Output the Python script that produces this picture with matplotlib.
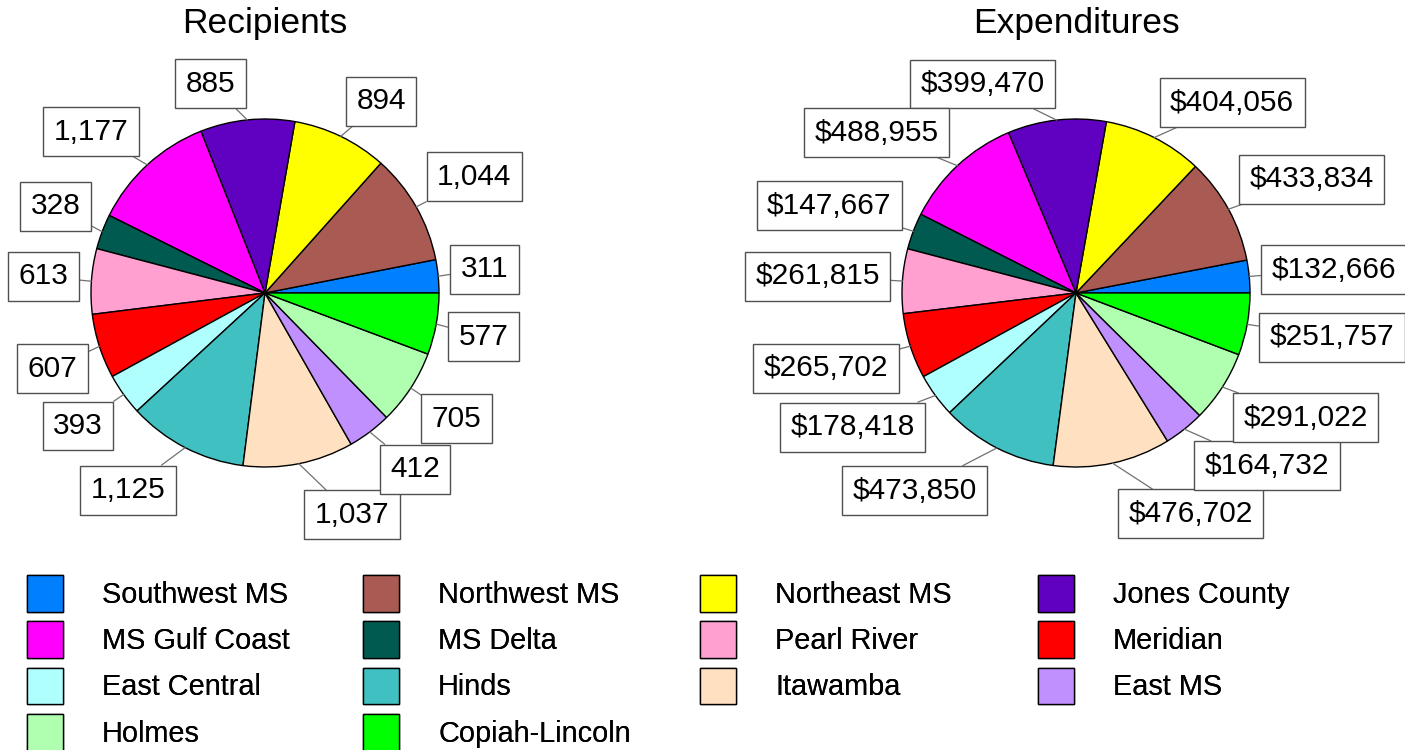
import numpy as np
import matplotlib.pyplot as plt

plt.rcParams['font.family'] = ['Liberation Sans', 'DejaVu Sans']

colleges = ['Southwest MS', 'Northwest MS', 'Northeast MS', 'Jones County',
            'MS Gulf Coast', 'MS Delta', 'Pearl River', 'Meridian',
            'East Central', 'Hinds', 'Itawamba', 'East MS', 'Holmes',
            'Copiah-Lincoln']
recipients = [311, 1044, 894, 885, 1177, 328, 613, 607, 393, 1125, 1037, 412, 705, 577]
expenditures = [132666, 433834, 404056, 399470, 488955, 147667, 261815, 265702,
                178418, 473850, 476702, 164732, 291022, 251757]
colors = ['#0080ff', '#a95a52', '#ffff00', '#6000c0', '#ff00ff', '#005a50',
          '#ffa0d0', '#ff0000', '#b0ffff', '#40c0c0', '#ffe0c0', '#c090ff',
          '#b0ffb0', '#00ff00']

W, H = 1405, 750
R = 174.0  # pie radius in pixels
LABEL_FS = 21.5
fig = plt.figure(figsize=(W / 100, H / 100), dpi=100)


def pie_panel(cx, cy, values, fmt, title):
    hw, hh = 260, 255
    ax = fig.add_axes([(cx - hw) / W, 1 - (cy + hh) / H, 2 * hw / W, 2 * hh / H])
    wedges, _ = ax.pie(values, colors=colors, startangle=0, radius=1,
                       wedgeprops=dict(edgecolor='black', linewidth=1))
    ax.set_aspect('auto')
    ax.set_xlim(-hw / R, hw / R)
    ax.set_ylim(-hh / R, hh / R)
    ax.axis('off')
    pad = 0.35 * LABEL_FS * 100 / 72 / R
    for w, v in zip(wedges, values):
        ang = np.deg2rad((w.theta1 + w.theta2) / 2)
        c, s = np.cos(ang), np.sin(ang)
        # labels near the bottom sit a little further out
        r = 1.07 + 0.1 * max(0.0, -s) ** 6
        px, py = r * c, r * s
        side = 1 if c > 0 else -1
        tx = px + side * pad
        ty = py + (24 / R) * np.clip(2.5 * s, -1, 1)
        ax.annotate(fmt.format(v), xy=(c, s), xytext=(tx, ty),
                    ha='left' if side > 0 else 'right', va='center',
                    fontsize=LABEL_FS, annotation_clip=False,
                    bbox=dict(boxstyle='square,pad=0.35', fc='white', ec='#505050', lw=1),
                    arrowprops=dict(arrowstyle='-', color='#707070', lw=0.9,
                                    shrinkA=0, shrinkB=0))
    ax.text(0, (cy - 33) / R, title, ha='center', va='baseline', fontsize=25.5)
    return wedges


wedges = pie_panel(265, 293, recipients, '{:,}', 'Recipients')
pie_panel(1076, 293, expenditures, '${:,}', 'Expenditures')

# legend reads row by row: one single-column legend per column
for k, x0 in enumerate([27, 363, 700, 1038]):
    idx = list(range(k, len(colleges), 4))
    leg = fig.legend([wedges[i] for i in idx], [colleges[i] for i in idx], ncol=1,
                     loc='upper left', bbox_to_anchor=(x0 / W, 1 - 575 / H),
                     frameon=False, fontsize=20.8, handlelength=1.25, handleheight=1.58,
                     handletextpad=1.35, labelspacing=0.33,
                     borderpad=0, borderaxespad=0)
    fig.add_artist(leg)

plt.savefig('out.png')
